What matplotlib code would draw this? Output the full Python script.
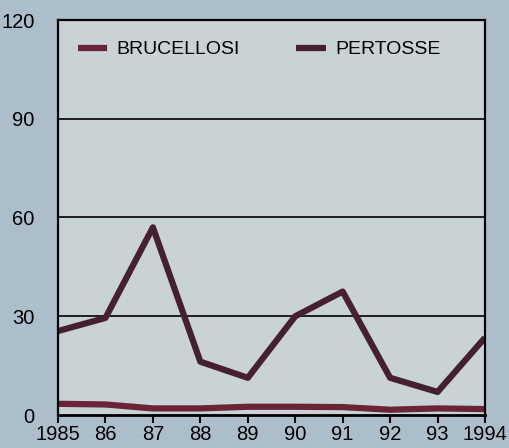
import matplotlib.pyplot as plt
import numpy as np

plt.rcParams['font.family'] = ['Liberation Sans', 'DejaVu Sans']

anni = [1985, 1986, 1987, 1988, 1989, 1990, 1991, 1992, 1993, 1994]
etichette = ["1985", "86", "87", "88", "89", "90", "91", "92", "93", "1994"]
brucellosi = [3.4, 3.2, 2.0, 2.0, 2.5, 2.5, 2.4, 1.6, 2.0, 1.8]
pertosse = [25.5, 29.5, 57.0, 16.2, 11.3, 30.0, 37.5, 11.3, 7.0, 23.5]

fig = plt.figure(figsize=(5.09, 4.48), dpi=100)
fig.patch.set_facecolor("#adbecb")
ax = fig.add_axes([58 / 509, 1 - 415 / 448, 427 / 509, 395 / 448])
ax.set_facecolor("#c9d3d5")

ax.plot(anni, brucellosi, color="#6a2438", lw=4.5, solid_capstyle="butt", label="BRUCELLOSI")
ax.plot(anni, pertosse, color="#45202e", lw=4.5, solid_capstyle="butt", label="PERTOSSE")

ax.set_xlim(1985, 1994)
ax.set_ylim(0, 120)
ax.set_yticks([0, 30, 60, 90, 120])
ax.set_xticks(anni)
ax.set_xticklabels(etichette)
for y in [30, 60, 90]:
    ax.axhline(y, color="black", lw=1.2, zorder=1)

for s in ["top", "left", "right"]:
    ax.spines[s].set_linewidth(1.6)
ax.spines["bottom"].set_linewidth(2)
ax.tick_params(axis="y", length=0, pad=17, labelsize=14.5)
ax.tick_params(axis="x", direction="out", length=6, width=1.5, labelsize=14.5, pad=1)

ax.legend(loc="upper left", ncol=2, frameon=False, fontsize=14, handlelength=1.5,
          columnspacing=2.9, bbox_to_anchor=(0.028, 0.967), borderaxespad=0,
          handletextpad=0.5)

fig.savefig("out.png", dpi=100, facecolor=fig.get_facecolor())
